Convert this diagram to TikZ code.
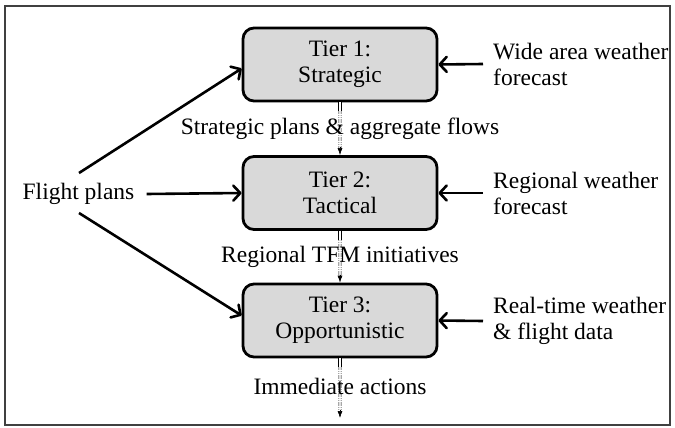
\documentclass[tikz,border=0pt]{standalone}
\usepackage{fontspec}
\setmainfont{Liberation Serif}
\usetikzlibrary{arrows.meta,calc}
\begin{document}
\begin{tikzpicture}[x=1pt,y=-1pt,
  tier/.style={draw=black, line width=2.8pt, fill=gray!30, rounded corners=11pt,
    minimum width=194pt, minimum height=73pt, align=center, inner sep=0pt},
  lbl/.style={inner sep=0pt, align=left},
  feed/.style={line width=2.6pt, -{Straight Barb[length=7pt,width=15pt,round]}},
  flowgray/.style={draw=gray!70, double=gray!25, double distance=2pt, line width=1.1pt, dash pattern=on 1.2pt off 0.6pt},
  flowblack/.style={draw=black, double=white, double distance=1.6pt, line width=1.1pt},
  flowtip/.style={-{Latex[length=7pt,width=5pt]}, line width=0.6pt, draw=black},
  font=\fontsize{23.5pt}{26pt}\selectfont]
\useasboundingbox (0,0) rectangle (675,428);
\draw[line width=1.5pt, draw=black!75] (5,6) rectangle (670,425);

\node[tier] (t1) at (340,64.5) {Tier 1:\\Strategic};
\node[tier] (t2) at (340,193) {Tier 2:\\Tactical};
\node[tier] (t3) at (340,320.5) {Tier 3:\\Opportunistic};

\node[inner sep=0pt] (fp) at (78.5,194) {Flight plans};
\coordinate (fpup) at (79,173);
\coordinate (fpdn) at (79,213);

\node[lbl, anchor=west] (w1) at (493,64) {Wide area weather\\forecast};
\node[lbl, anchor=west] (w2) at (493,193) {Regional weather\\forecast};
\node[lbl, anchor=west] (w3) at (493,321) {Real-time weather\\\& flight data};

\draw[feed] (fp.east) ++(12,0) coordinate (fpe) -- (t2.west);
\draw[feed] (fpup) -- ($(t1.west)+(0,4)$);
\draw[feed] (fpdn) -- ($(t3.west)+(0,-5)$);

\draw[feed] (w1.west) ++(-10,0) -- (t1.east);
\draw[feed] (w2.west) ++(-10,0) -- (t2.east);
\draw[feed] (w3.west) ++(-10,0) -- (t3.east);

\coordinate (endflow) at (340,418);

% vertical flows
\foreach \a/\b in {t1/t2, t2/t3} {
  \draw[flowgray] (\a.south) -- ($(\b.north)+(0,-5)$);
  \draw[flowblack] (\a.south) -- ++(0,9);
  \draw[flowtip] ($(\b.north)+(0,-8)$) -- (\b.north);
}
\draw[flowgray] (t3.south) -- ($(endflow)+(0,-5)$);
\draw[flowblack] (t3.south) -- ++(0,9);
\draw[flowtip] ($(endflow)+(0,-8)$) -- (endflow);

\node (l1) at (340,129) {Strategic plans \& aggregate flows};
\node (l2) at (340,257) {Regional TFM initiatives};
\node (l3) at (340,386) {Immediate actions};
\end{tikzpicture}
\end{document}
